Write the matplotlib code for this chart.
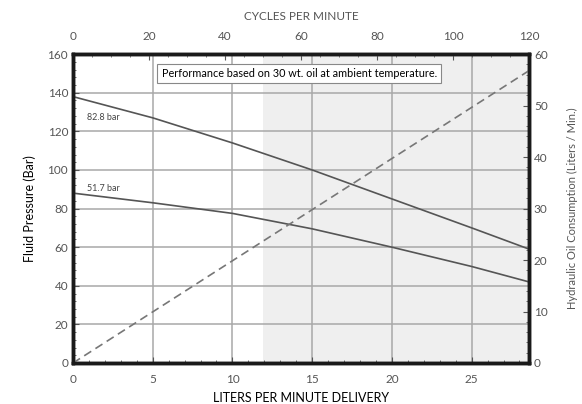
import numpy as np
import matplotlib
matplotlib.use("Agg")
import matplotlib.pyplot as plt
from matplotlib.ticker import MultipleLocator

# data
delivery = [0, 5, 10, 15, 20, 25, 28.6]
p_828 = [138, 127, 114, 100, 85, 70, 59]
p_517 = [88, 83, 77.5, 69.5, 60, 50, 42]
oil_x = [0, 28.6]
oil_y = [0, 56.8]
x_max = 28.6
shade_start = 11.9

plt.rcParams['font.family'] = ['Lato', 'DejaVu Sans']
grey = "#555555"

fig = plt.figure(figsize=(5.82, 4.04), dpi=100)
ax = fig.add_axes([0.1254, 0.1015, 0.909 - 0.1254, 0.866 - 0.1015])

ax.axvspan(shade_start, x_max, color="#efefef", zorder=0, lw=0)
ax.plot(delivery, p_828, color="#555555", lw=1.2, zorder=3)
ax.plot(delivery, p_517, color="#555555", lw=1.2, zorder=3)

ax.set_xlim(0, x_max)
ax.set_ylim(0, 160)
ax.xaxis.set_major_locator(MultipleLocator(5))
ax.xaxis.set_minor_locator(MultipleLocator(1))
ax.yaxis.set_major_locator(MultipleLocator(20))
ax.yaxis.set_minor_locator(MultipleLocator(4))
ax.grid(True, which="major", color="#a8a8a8", lw=1.1, zorder=1)
ax.set_axisbelow(True)
ax.tick_params(which="both", direction="in", colors=grey, labelsize=8.5)
ax.tick_params(which="major", length=4, width=0.8)
ax.tick_params(which="minor", length=2.5, width=0.6)
ax.tick_params(axis="x", pad=8)
for s in ax.spines.values():
    s.set_linewidth(2.4)
    s.set_color("#1a1a1a")

ax.set_xlabel("LITERS PER MINUTE DELIVERY", fontsize=9, color="black", labelpad=5)
ax.set_ylabel("Fluid Pressure (Bar)", fontsize=9, color="black", labelpad=8)

ax.text(0.9, 127, "82.8 bar", fontsize=6.5, color="#444444", va="center", zorder=4)
ax.text(0.9, 90.5, "51.7 bar", fontsize=6.5, color="#444444", va="center", zorder=4)
ax.text(14.2, 150, "Performance based on 30 wt. oil at ambient temperature.",
        fontsize=7.8, ha="center", va="center", zorder=5,
        bbox=dict(boxstyle="square,pad=0.4", fc="white", ec="#888888", lw=0.8))

# right axis: oil consumption
ax2 = ax.twinx()
ax2.plot(oil_x, oil_y, color="#777777", lw=1.2, ls=(0, (5, 3)), zorder=3)
ax2.set_ylim(0, 60)
ax2.yaxis.set_major_locator(MultipleLocator(10))
ax2.yaxis.set_minor_locator(MultipleLocator(2))
ax2.tick_params(which="both", direction="in", colors=grey, labelsize=8.5)
ax2.tick_params(which="major", length=4, width=0.8)
ax2.tick_params(which="minor", length=2.5, width=0.6)
ax2.set_ylabel("Hydraulic Oil Consumption (Liters / Min.)", fontsize=8, color=grey, labelpad=14)
for s in ax2.spines.values():
    s.set_linewidth(2.4)
    s.set_color("#1a1a1a")

# top axis: cycles per minute
ax3 = ax.twiny()
ax3.set_xlim(0, 120)
ax3.xaxis.set_major_locator(MultipleLocator(20))
ax3.xaxis.set_minor_locator(MultipleLocator(5))
ax3.tick_params(which="both", direction="in", colors=grey, labelsize=8.5)
ax3.tick_params(which="major", length=4, width=0.8, pad=9)
ax3.tick_params(which="minor", length=2.5, width=0.6)
ax3.set_xlabel("CYCLES PER MINUTE", fontsize=8.5, color=grey, labelpad=8)
for s in ax3.spines.values():
    s.set_linewidth(2.4)
    s.set_color("#1a1a1a")

fig.savefig("out.png", dpi=100)
